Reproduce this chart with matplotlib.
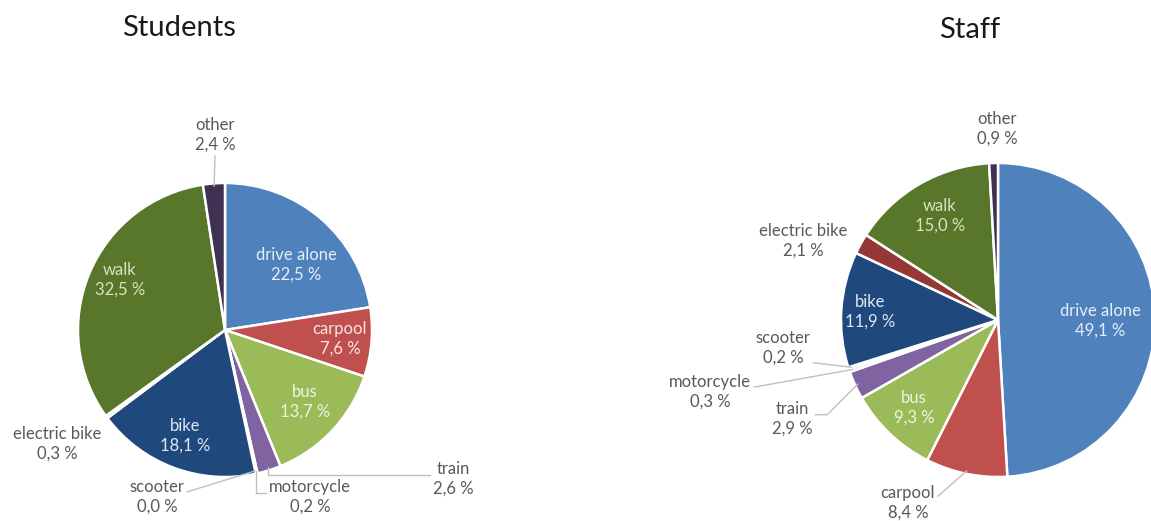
import numpy as np
import matplotlib
matplotlib.use('Agg')
import matplotlib.pyplot as plt

plt.rcParams['font.family'] = ['Lato', 'DejaVu Sans']

modes = ['drive alone', 'carpool', 'bus', 'train', 'motorcycle', 'scooter',
         'bike', 'electric bike', 'walk', 'other']
students = [22.5, 7.6, 13.7, 2.6, 0.2, 0.0, 18.1, 0.3, 32.5, 2.4]
staff = [49.1, 8.4, 9.3, 2.9, 0.3, 0.2, 11.9, 2.1, 15.0, 0.9]

colors = ['#4f81bd', '#c0504d', '#9bbb59', '#8064a2', '#4bacc6', '#f79646',
          '#1f497d', '#953735', '#58772a', '#3f3151']
inside_colors = {'drive alone': '#e6eef8', 'carpool': '#f7e4e3', 'bus': '#eef4e2',
                 'bike': '#dde6f2', 'walk': '#d7e4bd'}
outside_color = '#595959'
line_color = '#bfbfbf'
label_size = 12

fig = plt.figure(figsize=(11.51, 5.21), dpi=100)
ax = fig.add_axes([0, 0, 1, 1])
ax.set_xlim(0, 1151)
ax.set_ylim(521, 0)
ax.set_aspect('equal')
ax.axis('off')


def fmt(v):
    return f'{v:.1f} %'.replace('.', ',')


def rim_point(values, i, center, radius):
    total = sum(values)
    mid = (sum(values[:i]) + values[i] / 2) / total
    theta = np.deg2rad(-90 + 360 * mid)
    return center[0] + radius * np.cos(theta), center[1] + radius * np.sin(theta)


def draw_pie(values, center, radius, title, title_pos, inside, outside):
    ax.pie(values, colors=colors, center=center, radius=radius, startangle=-90,
           counterclock=True, wedgeprops=dict(edgecolor='white', linewidth=1.8),
           frame=True)
    ax.text(*title_pos, title, ha='center', va='center', fontsize=21, color='#1a1a1a')
    for name, pos in inside.items():
        i = modes.index(name)
        ax.text(*pos, f'{name}\n{fmt(values[i])}', ha='center', va='center',
                fontsize=label_size, color=inside_colors[name], linespacing=1.3)
    for name, (pos, rel, conn) in outside.items():
        i = modes.index(name)
        label = f'{name}\n{fmt(values[i])}'
        if rel is None:
            ax.text(*pos, label, ha='center', va='center', fontsize=label_size,
                    color=outside_color, linespacing=1.3)
        else:
            ax.annotate(label, xy=rim_point(values, i, center, radius * 0.98),
                        xytext=pos, ha='center', va='center', fontsize=label_size,
                        color=outside_color, linespacing=1.3,
                        arrowprops=dict(arrowstyle='-', color=line_color, lw=1,
                                        relpos=rel, connectionstyle=conn,
                                        shrinkA=0, shrinkB=0))


draw_pie(students, (225, 330), 147, 'Students', (179, 28),
         {'drive alone': (296, 265), 'carpool': (340, 339), 'bus': (305, 402),
          'bike': (185, 436), 'walk': (120, 280)},
         {'other': ((215, 135), (0.5, 0.0), 'arc3'),
          'electric bike': ((57, 444), None, None),
          'scooter': ((157, 497), (1.0, 0.62), 'arc3'),
          'motorcycle': ((310, 497), (0.0, 0.62), 'angle,angleA=0,angleB=90,rad=0'),
          'train': ((453, 479), (0.0, 0.6), 'angle,angleA=0,angleB=90,rad=0')})

draw_pie(staff, (998, 320), 157, 'Staff', (970, 30),
         {'drive alone': (1100, 321), 'walk': (940, 216), 'bike': (870, 312),
          'bus': (914, 408)},
         {'other': ((997, 129), None, None),
          'electric bike': ((803, 241), None, None),
          'scooter': ((783, 348), (1.0, 0.1), 'arc3'),
          'motorcycle': ((710, 392), (1.0, 0.62), 'arc3'),
          'train': ((792, 419), (1.0, 0.62), 'angle,angleA=0,angleB=45,rad=0'),
          'carpool': ((908, 503), (1.0, 0.62), 'arc3')})

fig.savefig('out.png', dpi=100, facecolor='white')
